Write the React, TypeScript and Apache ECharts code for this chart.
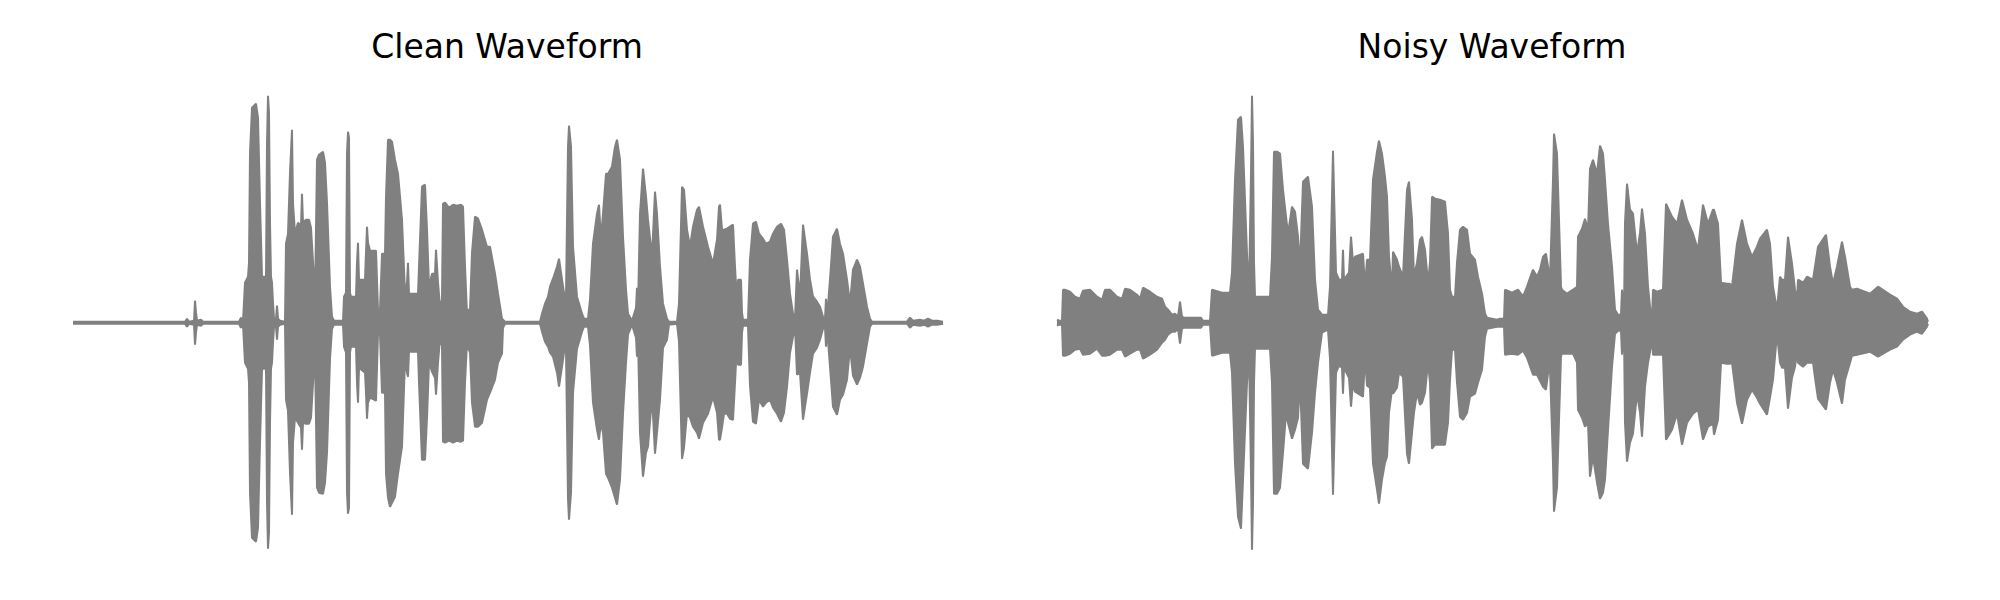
import React, { useEffect, useRef } from "react";
import * as echarts from "echarts";

// Envelope of the clean waveform: sample position, upper peak, lower peak (amplitude units)
const cleanX = [0,112,114,116,121,122,123,124,128,130,166,168,170,172,175,176,177,179,183,185,187,189,193,194,195,196,197,198,199,200,201,203,204,205,207,212,213,215,217,219,220,222,225,228,229,230,233,236,238,240,242,244,246,250,252,254,257,259,261,270,271,273,274,275,276,277,278,283,284,285,286,292,293,294,295,297,303,305,307,309,312,313,315,317,319,322,325,329,332,334,335,336,343,345,346,349,352,354,356,359,362,363,365,367,369,370,372,376,380,384,388,390,392,394,395,397,399,402,405,409,414,417,422,425,429,430,432,467,469,472,475,477,480,484,486,489,492,493,495,496,498,500,504,509,511,515,517,520,524,526,528,530,533,535,539,542,544,547,550,553,555,559,563,564,565,567,570,573,575,579,582,584,587,590,594,596,604,606,609,611,614,617,620,624,626,630,635,640,644,646,647,649,651,654,657,660,662,664,665,668,669,670,675,677,680,683,686,690,693,697,700,704,708,711,714,717,720,722,724,727,730,734,737,740,744,747,750,752,753,754,757,760,764,767,770,774,777,780,784,787,790,794,797,799,834,837,840,847,851,855,859,864,870];
const cleanUpper = [1,1,4,1,2,22,10,2,3,1,1,5,2,40,46,60,170,215,219,205,120,46,46,180,227,210,100,46,40,20,4,4,17,4,2,1,79,89,150,193,120,89,100,97,129,100,103,103,95,61,26,163,168,171,160,120,36,6,2,2,26,30,170,191,185,30,26,26,60,80,43,43,70,96,80,72,72,13,13,69,69,126,183,183,181,163,149,103,29,40,60,29,29,29,56,136,138,93,36,49,49,73,40,16,23,119,120,115,118,117,118,116,56,9,13,13,70,106,104,93,76,76,49,29,4,3,1,1,9,19,26,36,44,56,64,43,23,26,176,197,176,76,26,9,4,4,23,79,109,118,83,109,149,149,156,176,183,163,86,33,9,2,15,35,15,109,154,126,103,66,131,109,56,19,4,1,1,19,136,133,93,76,96,113,116,96,76,59,83,116,118,93,93,94,96,98,56,20,43,43,10,3,3,63,99,101,89,84,79,81,89,96,99,93,63,29,9,4,53,26,98,69,43,26,21,16,6,4,24,4,43,86,94,79,69,43,19,53,63,56,39,16,4,1,1,5,2,3,2,4,2,2,1];
const cleanLower = [-1,-1,-4,-1,-2,-22,-10,-2,-3,-1,-1,-5,-2,-40,-46,-60,-170,-215,-219,-205,-120,-46,-46,-180,-226,-210,-100,-46,-40,-20,-4,-4,-17,-4,-2,-1,-77,-88,-150,-192,-120,-95,-100,-105,-127,-100,-101,-101,-95,-61,-30,-165,-170,-171,-160,-130,-36,-6,-2,-2,-24,-30,-170,-191,-185,-30,-24,-24,-60,-80,-45,-50,-70,-96,-80,-75,-78,-11,-11,-70,-70,-151,-175,-184,-180,-174,-151,-124,-37,-50,-54,-29,-29,-29,-60,-137,-137,-95,-40,-49,-55,-72,-40,-16,-23,-119,-120,-118,-120,-118,-119,-118,-60,-20,-25,-30,-80,-104,-104,-100,-77,-70,-57,-40,-31,-5,-1,-1,-9,-19,-24,-30,-34,-50,-64,-44,-23,-26,-176,-197,-170,-70,-26,-9,-4,-4,-23,-80,-107,-117,-100,-110,-151,-155,-165,-175,-182,-157,-91,-40,-12,-2,-15,-34,-15,-110,-154,-130,-124,-74,-131,-110,-77,-25,-17,-2,-1,-19,-136,-125,-91,-95,-104,-110,-116,-100,-91,-74,-90,-117,-117,-105,-91,-91,-96,-97,-60,-20,-42,-42,-10,-3,-3,-63,-99,-101,-77,-84,-80,-77,-85,-91,-99,-90,-64,-30,-14,-4,-52,-50,-97,-71,-50,-31,-25,-17,-6,-4,-24,-4,-44,-84,-92,-77,-72,-57,-25,-53,-62,-55,-44,-21,-4,-1,-1,-5,-2,-3,-2,-4,-2,-2,-1];

// Envelope of the noisy waveform
const noisyX = [0,2,5,6,8,13,18,23,26,33,40,45,48,53,60,65,68,73,80,83,86,93,100,105,108,111,115,118,121,123,125,127,144,146,153,155,165,173,175,178,181,184,186,190,192,194,195,196,197,198,213,215,217,220,223,226,229,231,235,238,241,243,246,251,255,258,261,265,271,273,276,279,282,285,286,287,292,294,296,298,306,308,310,313,316,320,322,325,328,330,332,335,336,340,342,346,350,352,355,357,360,363,365,368,371,373,375,378,383,388,391,393,395,398,400,403,406,410,413,418,421,425,428,430,440,443,446,447,448,455,461,466,470,476,480,483,486,489,491,493,496,497,500,501,504,505,510,516,520,521,525,528,531,533,536,540,543,546,548,551,555,558,561,564,565,567,568,570,573,576,580,583,585,588,591,594,595,596,600,606,609,615,620,625,630,636,641,646,651,656,657,661,664,670,673,675,680,685,690,695,700,703,710,713,716,720,723,725,728,731,735,738,740,741,746,750,756,758,761,769,773,776,780,785,788,793,795,800,813,821,833,840,846,853,860,865,870,871];
const noisyUpper = [3,2,2,33,33,31,26,24,32,33,26,23,33,33,26,24,34,33,28,24,35,31,26,24,16,13,8,9,6,21,6,5,5,2,2,33,30,30,50,143,203,206,176,69,30,150,227,180,60,26,26,66,171,171,169,133,106,89,116,111,86,56,141,146,116,43,13,8,8,36,172,50,43,43,73,43,50,86,60,66,69,36,63,63,143,171,182,169,146,126,66,33,71,63,56,46,133,141,103,46,60,83,86,73,40,60,126,124,123,121,89,33,26,26,60,93,96,93,69,63,46,29,9,5,3,4,4,3,33,30,33,26,36,53,46,53,66,69,56,43,143,189,169,136,36,33,29,33,36,86,94,104,93,154,163,149,177,169,143,99,56,13,8,8,33,8,100,139,113,109,69,90,114,89,36,6,5,33,31,33,119,106,99,123,103,89,73,118,99,113,113,99,40,39,39,36,79,103,79,66,76,84,93,79,36,13,46,43,43,86,59,33,23,43,40,46,43,56,76,88,56,39,56,81,66,36,33,34,29,36,28,24,16,11,9,11,4,1];
const noisyLower = [-3,-2,-2,-33,-33,-31,-27,-26,-32,-31,-26,-33,-33,-32,-27,-27,-34,-31,-27,-27,-36,-32,-27,-20,-17,-12,-9,-9,-6,-21,-6,-5,-5,-2,-2,-33,-30,-30,-50,-141,-194,-206,-157,-60,-30,-150,-227,-180,-60,-26,-26,-60,-171,-171,-165,-130,-91,-100,-116,-107,-95,-57,-141,-146,-110,-70,-40,-10,-7,-36,-172,-50,-43,-45,-71,-45,-55,-84,-60,-69,-74,-34,-63,-65,-141,-167,-181,-157,-140,-134,-90,-67,-71,-65,-50,-54,-131,-141,-110,-90,-70,-82,-80,-70,-40,-60,-126,-122,-122,-122,-100,-57,-27,-27,-60,-94,-97,-90,-74,-71,-60,-47,-14,-6,-4,-4,-4,-3,-32,-31,-32,-28,-35,-52,-52,-58,-64,-67,-51,-45,-140,-189,-165,-130,-33,-31,-31,-31,-40,-87,-95,-104,-100,-154,-134,-160,-176,-170,-157,-107,-44,-11,-8,-8,-32,-8,-100,-139,-120,-111,-71,-90,-114,-64,-40,-24,-5,-32,-32,-32,-117,-107,-91,-122,-100,-91,-87,-117,-104,-101,-112,-97,-40,-41,-41,-40,-80,-101,-77,-67,-75,-81,-92,-75,-57,-11,-40,-45,-45,-86,-55,-44,-30,-40,-44,-40,-40,-55,-76,-87,-60,-47,-60,-81,-57,-40,-33,-32,-29,-34,-27,-24,-17,-12,-9,-11,-4,-1];

const titles = ["Clean Waveform", "Noisy Waveform"];

const GRAY = "#808080";

function pairs(xs: number[], ys: number[]) {
  return xs.map((x, i) => [x, ys[i]]);
}

function envSeries(idx: number, xs: number[], ys: number[]) {
  return {
    type: "line",
    xAxisIndex: idx,
    yAxisIndex: idx,
    data: pairs(xs, ys),
    showSymbol: false,
    symbol: "none",
    smooth: false,
    lineStyle: { color: GRAY, width: 2 },
    areaStyle: { color: GRAY, opacity: 1 },
    silent: true,
  };
}

function zeroSeries(idx: number, xs: number[]) {
  return {
    type: "line",
    xAxisIndex: idx,
    yAxisIndex: idx,
    data: [
      [xs[0], 0],
      [xs[xs.length - 1], 0],
    ],
    showSymbol: false,
    symbol: "none",
    lineStyle: { color: GRAY, width: 2 },
    silent: true,
  };
}

export default function App() {
  const ref = useRef<HTMLDivElement>(null);
  useEffect(() => {
    if (!ref.current) return;
    const chart = echarts.init(ref.current, undefined, { renderer: "svg" });
    const gridTop = 72.7;
    const gridH = 500;
    const titleStyle = {
      fontSize: 33,
      fontFamily: "DejaVu Sans",
      fill: "#000000",
      align: "center",
      verticalAlign: "middle",
    };
    chart.setOption({
      animation: false,
      backgroundColor: "#ffffff",
      grid: [
        { left: 73, top: gridTop, width: 871, height: gridH },
        { left: 1057, top: gridTop, width: 871, height: gridH },
      ],
      xAxis: [0, 1].map((i) => ({
        type: "value",
        gridIndex: i,
        min: 0,
        max: 871,
        show: false,
      })),
      yAxis: [0, 1].map((i) => ({
        type: "value",
        gridIndex: i,
        min: -250,
        max: 250,
        show: false,
      })),
      series: [
        envSeries(0, cleanX, cleanUpper),
        envSeries(0, cleanX, cleanLower),
        zeroSeries(0, cleanX),
        envSeries(1, noisyX, noisyUpper),
        envSeries(1, noisyX, noisyLower),
        zeroSeries(1, noisyX),
      ],
      graphic: [
        { type: "text", x: 507, y: 46, style: { ...titleStyle, text: titles[0] } },
        { type: "text", x: 1492, y: 46, style: { ...titleStyle, text: titles[1] } },
      ],
    });
    return () => chart.dispose();
  }, []);
  return (
    <div
      ref={ref}
      style={{ position: "fixed", left: 0, top: 0, width: 2000, height: 600 }}
    />
  );
}
